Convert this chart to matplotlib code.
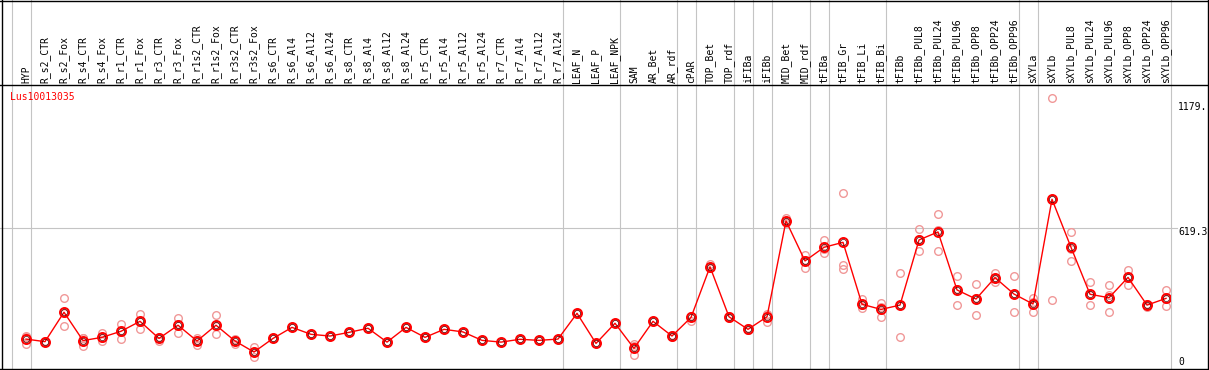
import matplotlib
matplotlib.use("Agg")
import matplotlib.pyplot as plt
from matplotlib.lines import Line2D
import matplotlib.transforms as mtransforms

# sample names along the top
samples = [
    "HYP", "R_s2_CTR", "R_s2_Fox", "R_s4_CTR", "R_s4_Fox", "R_r1_CTR", "R_r1_Fox",
    "R_r3_CTR", "R_r3_Fox", "R_r1s2_CTR", "R_r1s2_Fox", "R_r3s2_CTR", "R_r3s2_Fox",
    "R_s6_CTR", "R_s6_Al4", "R_s6_Al12", "R_s6_Al24", "R_s8_CTR", "R_s8_Al4",
    "R_s8_Al12", "R_s8_Al24", "R_r5_CTR", "R_r5_Al4", "R_r5_Al12", "R_r5_Al24",
    "R_r7_CTR", "R_r7_Al4", "R_r7_Al12", "R_r7_Al24", "LEAF_N", "LEAF_P", "LEAF_NPK",
    "SAM", "AR_Bet", "AR_rdf", "cPAR", "TOP_Bet", "TOP_rdf", "iFIBa", "iFIBb",
    "MID_Bet", "MID_rdf", "tFIBa", "tFIB_Gr", "tFIB_Li", "tFIB_Bi", "tFIBb",
    "tFIBb_PUL8", "tFIBb_PUL24", "tFIBb_PUL96", "tFIBb_OPP8", "tFIBb_OPP24",
    "tFIBb_OPP96", "sXYLa", "sXYLb", "sXYLb_PUL8", "sXYLb_PUL24", "sXYLb_PUL96",
    "sXYLb_OPP8", "sXYLb_OPP24", "sXYLb_OPP96",
]

# mean expression per sample
means = [
    106, 94, 230, 99, 114, 142, 188, 109, 170, 97, 170, 97, 46,
    109, 160, 128, 120, 137, 156, 92, 160, 114, 151, 139, 100,
    92, 105, 100, 106, 225, 86, 179,
    63, 188, 120, 206, 440, 209, 151, 209,
    652, 467, 530, 553, 267, 243, 263,
    564, 601, 333, 291, 390, 314,
    268, 752, 530, 313, 297, 391, 263, 294,
]

# replicate values (3 per sample)
reps = [
    [117, 83, 118], [96, 92, 94], [296, 166, 228], [112, 74, 111], [136, 97, 109],
    [176, 108, 142], [222, 154, 188], [117, 99, 111], [203, 132, 175], [112, 79, 100],
    [216, 128, 166], [102, 83, 106], [71, 22, 45],
    [109, 109, 109], [160, 160, 160], [128, 128, 128], [120, 120, 120], [137, 137, 137],
    [156, 156, 156], [92, 92, 92], [160, 160, 160], [114, 114, 114], [151, 151, 151],
    [139, 139, 139], [100, 100, 100], [92, 92, 92], [105, 105, 105], [100, 100, 100],
    [106, 106, 106], [225, 225, 225], [86, 86, 86], [179, 179, 179],
    [83, 31, 75], [188, 188, 188], [114, 124, 122], [191, 213, 214], [451, 436, 433],
    [214, 203, 210], [155, 148, 150], [222, 186, 219],
    [667, 645, 644], [494, 436, 471], [564, 505, 521], [780, 448, 428],
    [291, 248, 262], [271, 206, 252], [410, 114, 265],
    [613, 511, 568], [682, 511, 610], [397, 263, 339], [359, 217, 297],
    [413, 371, 386], [397, 229, 316],
    [294, 232, 278], [1218, 285, 753], [601, 467, 522], [368, 263, 308],
    [354, 229, 308], [424, 354, 395], [270, 256, 263], [333, 257, 292],
]

# last sample index of each group (vertical separators)
group_ends = [-1, 0, 28, 31, 34, 35, 37, 38, 39, 41, 42, 45, 52, 53, 60]

gene = "Lus10013035"
ytick_vals = [1179, 619.3, 0]
ytick_labels = ["1179.", "619.3", "0"]

W, H = 1209, 370
fig = plt.figure(figsize=(W / 100, H / 100), dpi=100)
fig.patch.set_facecolor("white")

# plot area in pixels: x 2..1170, y 85..369
ax = fig.add_axes([2 / W, 1 / H, 1168 / W, 284 / H])
ax.set_xlim(-1.263, 60.21)
ax.set_ylim(-32.3, 1280)
ax.axis("off")

mono = "DejaVu Sans Mono"
grey = "#c4c4c4"

x = list(range(len(samples)))

# group separators, running up through the header
for g in group_ends:
    ax.axvline(g + 0.26, ymin=0, ymax=369 / 284, color=grey, lw=0.8,
               clip_on=False, zorder=1)

ax.axhline(619.3, xmin=-0.002, xmax=1.006, color=grey, lw=0.8,
           clip_on=False, zorder=1)

# replicates
for i, r in enumerate(reps):
    ax.plot([i] * len(r), r, ls="none", marker="o", ms=5.5, mfc="none",
            mec="#f09898", mew=1.0, zorder=2)

# mean line
ax.plot(x, means, color="red", lw=1, zorder=3)
ax.plot(x, means, ls="none", marker="o", ms=6.5, mfc="none", mec="red",
        mew=1.4, zorder=4)
ax.plot(x, means, ls="none", marker="o", ms=4.4, mfc="none", mec="#500000",
        mew=0.5, zorder=5)

# header labels
trans = mtransforms.blended_transform_factory(ax.transData, ax.transAxes)
for i, s in enumerate(samples):
    ax.text(i, (369 - 83) / 284, s, transform=trans, rotation=90,
            ha="center", va="bottom", fontsize=7, family=mono, clip_on=False)

# right side value labels
ytrans = mtransforms.blended_transform_factory(ax.transAxes, ax.transData)
for v, lab in zip(ytick_vals, ytick_labels):
    off = -4 if lab == "619.3" else 0
    ax.annotate(lab, xy=(1, v), xycoords=ytrans, xytext=(8, off),
                textcoords="offset pixels", ha="left", va="center",
                fontsize=7, family=mono, annotation_clip=False)

ax.text(8 / 1168, (369 - 97) / 284, gene, transform=ax.transAxes,
        color="red", fontsize=7, family=mono, ha="left", va="center")

# black frame and header separator
def hline(ypx, x0=0, x1=W):
    fig.add_artist(Line2D([x0 / W, x1 / W], [1 - ypx / H, 1 - ypx / H],
                          color="black", lw=1.0, transform=fig.transFigure))

def vline(xpx):
    fig.add_artist(Line2D([xpx / W, xpx / W], [0, 1],
                          color="black", lw=1.0, transform=fig.transFigure))

hline(0.6)
hline(85)
hline(369)
vline(1.5)
vline(1208)

fig.savefig("out.png", dpi=100, facecolor="white")
